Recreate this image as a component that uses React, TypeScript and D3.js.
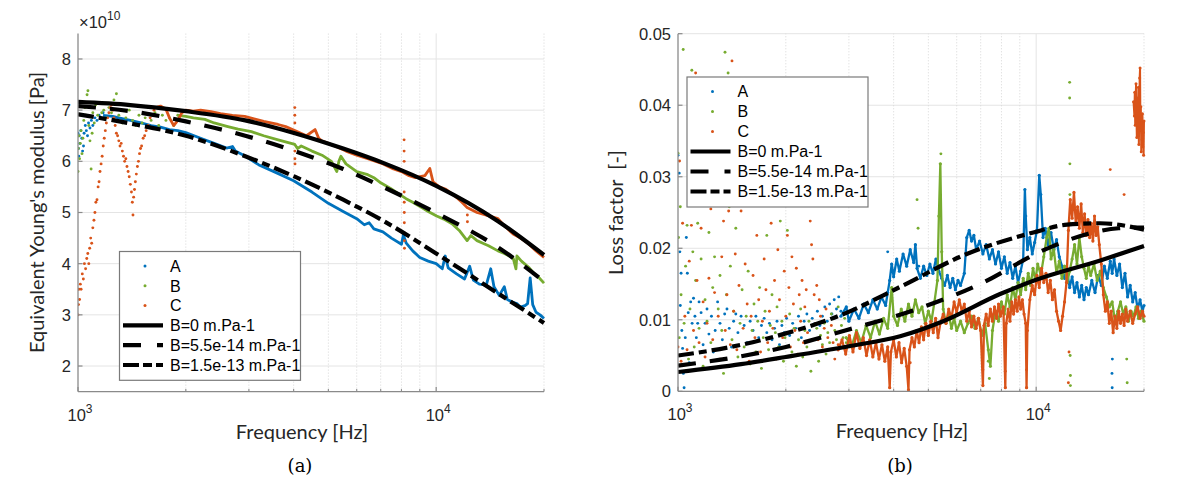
import React from 'react';
import * as d3 from 'd3';

type Pt = [number, number];

// colours used by MATLAB for the three samples
const seriesNames = ['A', 'B', 'C'];
const seriesColors = ['#0072BD', '#77AC30', '#D95319'];
const modelNames = ['B=0 m.Pa-1', 'B=5.5e-14 m.Pa-1', 'B=1.5e-13 m.Pa-1'];

const freqTicks = [1000, 10000];
const freqMinorTicks = [2000, 3000, 4000, 5000, 6000, 7000, 8000, 9000, 20000];
const modulusTicks = [2, 3, 4, 5, 6, 7, 8];
const lossTicks = [0, 0.01, 0.02, 0.03, 0.04, 0.05];

// ---------- (a) Equivalent Young's modulus, in 1e10 Pa ----------
const modulusDotsA: Pt[] = [[1000, 6.55], [1003, 6.25], [1005, 6.1], [1008, 6.5], [1012, 6.35], [1018, 6.6], [1025, 6.45], [1030, 6.2], [1036, 6.3], [1040, 6.55], [1048, 6.7], [1055, 6.6], [1063, 6.5], [1070, 6.75], [1080, 6.65], [1090, 6.8], [1100, 6.7], [1115, 6.85], [1130, 6.8], [1145, 6.9], [1160, 6.85], [1175, 6.95]];
const modulusLineA: Pt[] = [[1175, 6.9], [1250, 6.88], [1300, 6.85], [1400, 6.8], [1500, 6.75], [1600, 6.7], [1700, 6.67], [1800, 6.62], [1900, 6.6], [2000, 6.56], [2200, 6.45], [2400, 6.35], [2600, 6.26], [2700, 6.29], [2750, 6.2], [2900, 6.12], [3200, 5.93], [3600, 5.77], [4000, 5.62], [4500, 5.4], [5000, 5.18], [5500, 5.02], [6000, 4.88], [6300, 4.76], [6500, 4.8], [6700, 4.68], [7100, 4.62], [7500, 4.5], [8000, 4.38], [8100, 4.56], [8250, 4.4], [8600, 4.25], [9000, 4.12], [9500, 4.05], [10000, 4.0], [10400, 3.9], [10600, 4.15], [10800, 3.92], [11400, 3.8], [12000, 3.7], [12400, 3.95], [12700, 3.68], [13200, 3.6], [13800, 3.58], [14200, 3.9], [14500, 3.55], [15000, 3.38], [15500, 3.55], [15800, 3.3], [16300, 3.25], [16800, 3.22], [17200, 3.15], [17700, 3.18], [18000, 3.22], [18300, 3.72], [18600, 3.2], [19000, 3.05], [19500, 3.0], [20000, 2.93]];

const modulusDotsB: Pt[] = [[1000, 5.8], [1002, 6.25], [1006, 6.5], [1010, 6.05], [1015, 6.35], [1020, 6.6], [1026, 6.15], [1032, 6.45], [1038, 6.8], [1045, 7.05], [1052, 6.9], [1060, 7.3], [1066, 7.38], [1072, 6.7], [1080, 6.4], [1088, 5.85], [1095, 6.55], [1100, 6.95], [1110, 6.75], [1120, 7.1], [1135, 6.9], [1150, 7.15], [1165, 6.95], [1180, 7.0], [1200, 6.85], [1220, 7.05], [1240, 6.95], [1260, 7.2], [1280, 7.32], [1300, 6.9], [1330, 6.75], [1360, 6.85], [1390, 7.0], [1420, 6.8], [1450, 6.7], [1480, 6.9], [1510, 6.75], [1540, 6.85], [1570, 7.05], [1600, 6.8], [1640, 6.95], [1680, 6.7], [1720, 6.9], [1760, 6.8], [1800, 6.85], [1850, 6.7], [1900, 6.9]];
const modulusLineB: Pt[] = [[1900, 6.9], [2000, 6.88], [2100, 6.85], [2260, 6.82], [2400, 6.75], [2620, 6.68], [2800, 6.63], [3050, 6.58], [3300, 6.5], [3620, 6.42], [4030, 6.33], [4100, 6.25], [4200, 6.3], [4500, 6.2], [4800, 6.12], [5100, 6.0], [5280, 5.8], [5350, 6.0], [5420, 6.1], [5600, 5.95], [6000, 5.8], [6440, 5.74], [6700, 5.68], [7000, 5.58], [7460, 5.47], [7800, 5.38], [8240, 5.27], [8600, 5.2], [9090, 5.1], [9500, 5.02], [10030, 4.93], [10500, 4.87], [11070, 4.78], [11600, 4.65], [12200, 4.45], [12500, 4.55], [13000, 4.45], [13500, 4.4], [14000, 4.35], [14880, 4.25], [15500, 4.2], [16000, 4.15], [16420, 4.1], [16700, 3.9], [16800, 4.15], [17300, 4.05], [18120, 3.93], [18800, 3.8], [19400, 3.72], [20000, 3.62]];

const modulusDotsC: Pt[] = [[1000, 3.0], [1003, 3.2], [1006, 3.5], [1010, 3.3], [1015, 3.6], [1020, 3.5], [1028, 3.8], [1035, 3.7], [1042, 4.0], [1050, 3.9], [1058, 4.1], [1065, 4.2], [1072, 4.0], [1078, 4.3], [1085, 4.5], [1092, 4.4], [1100, 4.7], [1108, 4.85], [1115, 5.0], [1122, 5.2], [1130, 5.25], [1138, 5.5], [1145, 5.6], [1152, 5.8], [1160, 5.95], [1168, 6.1], [1176, 6.3], [1184, 6.45], [1192, 6.6], [1200, 6.75], [1210, 6.85], [1220, 6.95], [1230, 7.05], [1240, 7.1], [1250, 7.0], [1260, 6.85], [1270, 6.7], [1280, 6.55], [1290, 6.5], [1300, 6.4], [1310, 6.3], [1320, 6.35], [1330, 6.2], [1340, 6.1], [1350, 6.0], [1360, 6.05], [1370, 5.9], [1380, 5.8], [1390, 5.7], [1400, 5.55], [1410, 5.4], [1418, 5.2], [1424, 4.95], [1430, 5.3], [1438, 5.45], [1446, 5.6], [1455, 5.75], [1465, 5.9], [1475, 6.0], [1485, 6.15], [1495, 6.25], [1505, 6.3], [1520, 6.45], [1535, 6.5], [1550, 6.6], [1570, 6.7], [1590, 6.85], [1610, 6.9], [1630, 7.0], [1650, 7.05], [4030, 7.05], [4030, 6.9], [4031, 6.75], [4032, 6.2], [4033, 6.05], [4035, 5.95], [8136, 6.42], [8137, 6.2], [8139, 6.0], [8141, 5.4], [8143, 5.2], [8145, 5.0], [8148, 4.8], [8150, 4.6], [8153, 4.45], [8155, 4.3], [12220, 4.95], [12225, 4.82]];
const modulusLineC: Pt[] = [[1650, 7.05], [1700, 7.08], [1760, 7.02], [1800, 6.85], [1850, 6.7], [1900, 6.8], [1950, 6.95], [2000, 7.0], [2100, 6.98], [2200, 7.0], [2350, 6.97], [2500, 6.93], [2700, 6.9], [2920, 6.88], [3100, 6.83], [3300, 6.78], [3620, 6.72], [3800, 6.68], [4030, 6.6], [4343, 6.5], [4590, 6.62], [4700, 6.45], [4790, 6.4], [5000, 6.35], [5290, 6.28], [5600, 6.2], [6000, 6.12], [6440, 6.05], [7110, 5.95], [7600, 5.85], [8000, 5.8], [8400, 5.72], [8750, 5.68], [9300, 5.72], [9600, 5.86], [9800, 5.6], [10200, 5.5], [10600, 5.46], [11300, 5.32], [11800, 5.2], [12200, 5.1], [13000, 5.0], [13800, 4.95], [14880, 4.88], [15600, 4.72], [16400, 4.58], [17200, 4.5], [18100, 4.39], [19000, 4.25], [20000, 4.12]];

const modulusModel0: Pt[] = [[1000, 7.16], [1400, 7.1], [2000, 6.98], [2930, 6.8], [4030, 6.55], [5500, 6.25], [7110, 5.97], [10000, 5.52], [14880, 4.83], [20000, 4.17]];
const modulusModel1: Pt[] = [[1000, 7.08], [1400, 6.98], [2000, 6.78], [2930, 6.5], [4030, 6.2], [5500, 5.85], [7110, 5.5], [10000, 4.99], [14880, 4.32], [20000, 3.65]];
const modulusModel2: Pt[] = [[1000, 6.92], [1400, 6.74], [2000, 6.5], [2930, 6.1], [4030, 5.7], [5500, 5.25], [7110, 4.84], [10000, 4.2], [14880, 3.42], [20000, 2.84]];

// ---------- (b) Loss factor ----------
const lossDotsA: Pt[] = [[1000, 0.033], [1008, 0.0305], [1012, 0.0195], [1015, 0.012], [1020, 0.0165], [1025, 0.0085], [1030, 0.006], [1035, 0.0025], [1040, 0.0005], [1048, 0.0075], [1055, 0.0215], [1062, 0.0165], [1068, 0.011], [1075, 0.004], [1085, 0.0125], [1095, 0.0095], [1105, 0.013], [1115, 0.0105], [1125, 0.0075], [1135, 0.0095], [1145, 0.0125], [1160, 0.011], [1175, 0.0065], [1190, 0.0095], [1205, 0.0115], [1220, 0.008], [1240, 0.0105], [1255, 0.0055], [1270, 0.0085], [1290, 0.0125], [1310, 0.0095], [1330, 0.0072], [1350, 0.0108], [1370, 0.0115], [1390, 0.0088], [1410, 0.0062], [1430, 0.0098], [1450, 0.0108], [1470, 0.0082], [1500, 0.0105], [1530, 0.0092], [1560, 0.0068], [1590, 0.0098], [1620, 0.0085], [1650, 0.0105], [1680, 0.0075], [1710, 0.0092], [1740, 0.0102], [1770, 0.0082], [1800, 0.0095], [1830, 0.0072], [1860, 0.0088], [1890, 0.0098], [1920, 0.0065], [1950, 0.0092], [1980, 0.0082], [2010, 0.0102], [2050, 0.0078], [2090, 0.0095], [2130, 0.0088], [2170, 0.0105], [2210, 0.0075], [2250, 0.0098], [2290, 0.0108], [2330, 0.0085], [2370, 0.0102], [2410, 0.0095], [2450, 0.0112], [2490, 0.0092], [2530, 0.0105], [2570, 0.0118], [2610, 0.0098], [2650, 0.0122], [2690, 0.0108], [2730, 0.0128], [2770, 0.0115], [2810, 0.0132], [2850, 0.0112], [16300, 0.0005], [16280, 0.0025], [16320, 0.0045], [3850, 0.0195], [4700, 0.0175]];
const lossLineA: Pt[] = [[2850, 0.0105], [2950, 0.0118], [3000, 0.0098], [3100, 0.0115], [3200, 0.0102], [3300, 0.0122], [3400, 0.011], [3500, 0.0128], [3600, 0.0115], [3700, 0.0132], [3800, 0.012], [3850, 0.0138], [3900, 0.0155], [3950, 0.0178], [4000, 0.016], [4080, 0.0185], [4150, 0.0168], [4250, 0.0192], [4350, 0.0175], [4450, 0.0198], [4550, 0.018], [4600, 0.0205], [4650, 0.0172], [4750, 0.0158], [4850, 0.0175], [4950, 0.0162], [5050, 0.0178], [5150, 0.0165], [5250, 0.0185], [5350, 0.0168], [5450, 0.0158], [5550, 0.0148], [5650, 0.0162], [5750, 0.0145], [5850, 0.0158], [5950, 0.0142], [6050, 0.0155], [6150, 0.0148], [6300, 0.0165], [6400, 0.0215], [6500, 0.0225], [6600, 0.021], [6700, 0.0218], [6800, 0.0198], [6950, 0.021], [7100, 0.0192], [7250, 0.0205], [7400, 0.0185], [7550, 0.0198], [7700, 0.0178], [7850, 0.0195], [8000, 0.0172], [8150, 0.0188], [8300, 0.0165], [8450, 0.018], [8600, 0.0158], [8750, 0.0175], [8900, 0.0152], [9050, 0.0168], [9200, 0.0185], [9300, 0.0282], [9350, 0.0245], [9450, 0.0198], [9600, 0.0215], [9750, 0.0192], [9900, 0.0208], [10050, 0.0225], [10200, 0.0302], [10300, 0.0275], [10450, 0.0215], [10600, 0.0228], [10800, 0.0205], [11000, 0.0222], [11200, 0.0198], [11400, 0.0212], [11600, 0.0188], [11800, 0.0175], [12000, 0.0158], [12200, 0.0168], [12400, 0.0145], [12600, 0.016], [12800, 0.0138], [13000, 0.0152], [13200, 0.0132], [13400, 0.0148], [13600, 0.0128], [13800, 0.0145], [14000, 0.0135], [14300, 0.0155], [14600, 0.0138], [14900, 0.0162], [15200, 0.0148], [15500, 0.0175], [15800, 0.0158], [16100, 0.0182], [16300, 0.0165], [16500, 0.0185], [16800, 0.0162], [17100, 0.0178], [17400, 0.0145], [17700, 0.0165], [18000, 0.0132], [18300, 0.0148], [18600, 0.0125], [18900, 0.0138], [19200, 0.0115], [19500, 0.0128], [19800, 0.0112], [20000, 0.012]];

const lossDotsB: Pt[] = [[1000, 0.0333], [1003, 0.0215], [1008, 0.0075], [1015, 0.0258], [1020, 0.0135], [1034, 0.0478], [1040, 0.0095], [1050, 0.0175], [1060, 0.0232], [1070, 0.0045], [1080, 0.0115], [1093, 0.0449], [1100, 0.0195], [1110, 0.0062], [1120, 0.0155], [1135, 0.0235], [1145, 0.0088], [1160, 0.0185], [1175, 0.0035], [1190, 0.0128], [1205, 0.0098], [1220, 0.0222], [1235, 0.0068], [1250, 0.0145], [1265, 0.0188], [1280, 0.0058], [1295, 0.0115], [1310, 0.0162], [1325, 0.0085], [1340, 0.0025], [1353, 0.0474], [1365, 0.0135], [1380, 0.0445], [1390, 0.0258], [1400, 0.0175], [1415, 0.0072], [1430, 0.0112], [1450, 0.0228], [1470, 0.0048], [1490, 0.0095], [1510, 0.0142], [1530, 0.0062], [1550, 0.0105], [1570, 0.0168], [1590, 0.0038], [1610, 0.0085], [1630, 0.0122], [1650, 0.0055], [1670, 0.0098], [1690, 0.0145], [1710, 0.0032], [1730, 0.0075], [1750, 0.0112], [1770, 0.0218], [1790, 0.0058], [1810, 0.0092], [1830, 0.0135], [1850, 0.0045], [1870, 0.0082], [1890, 0.0118], [1910, 0.0062], [1930, 0.0238], [1950, 0.0098], [1970, 0.0042], [1990, 0.0075], [2020, 0.0225], [2050, 0.0108], [2080, 0.0055], [2110, 0.0088], [2140, 0.0035], [2170, 0.0072], [2200, 0.0115], [2230, 0.0048], [2260, 0.0085], [2290, 0.0062], [2320, 0.0098], [2350, 0.0028], [2380, 0.0072], [2410, 0.0055], [2440, 0.0088], [2470, 0.0042], [2500, 0.0078], [2530, 0.0065], [2560, 0.0095], [2590, 0.0052], [2620, 0.0082], [2650, 0.0068], [2680, 0.0108], [2710, 0.0058], [2740, 0.0085], [2770, 0.0072], [2800, 0.0118], [2830, 0.0062], [2860, 0.0092], [2890, 0.0075], [2920, 0.0102], [2950, 0.0068], [4650, 0.0268], [4680, 0.0228], [12400, 0.0432], [12400, 0.041], [12420, 0.0318], [12420, 0.0275], [12440, 0.0235], [12440, 0.005], [12460, 0.0022], [12460, 0.0008], [17900, 0.0045], [17950, 0.0012], [7400, 0.0018], [7350, 0.0042], [5420, 0.0332]];
const lossLineB: Pt[] = [[2950, 0.0075], [3050, 0.0062], [3150, 0.0085], [3250, 0.0068], [3350, 0.0092], [3450, 0.0075], [3550, 0.0098], [3650, 0.008], [3750, 0.0102], [3850, 0.0088], [3950, 0.0145], [4000, 0.0105], [4100, 0.0092], [4200, 0.0115], [4300, 0.0098], [4400, 0.0122], [4500, 0.0105], [4600, 0.0128], [4700, 0.011], [4800, 0.0118], [4900, 0.0095], [5000, 0.0112], [5100, 0.0098], [5200, 0.0125], [5300, 0.0155], [5350, 0.0245], [5400, 0.0318], [5450, 0.0195], [5500, 0.0115], [5600, 0.0095], [5700, 0.0108], [5800, 0.0088], [5900, 0.0102], [6000, 0.0085], [6150, 0.0098], [6300, 0.0082], [6450, 0.0095], [6600, 0.0105], [6750, 0.0088], [6900, 0.0102], [7050, 0.0078], [7200, 0.0095], [7350, 0.0058], [7450, 0.0035], [7550, 0.0085], [7700, 0.0112], [7850, 0.0098], [8000, 0.0125], [8150, 0.0108], [8300, 0.0135], [8450, 0.0118], [8600, 0.0145], [8750, 0.0128], [8900, 0.0152], [9050, 0.0135], [9200, 0.0158], [9350, 0.0142], [9500, 0.0165], [9650, 0.0148], [9800, 0.0172], [9950, 0.0155], [10100, 0.0178], [10300, 0.0162], [10500, 0.0188], [10700, 0.0215], [10850, 0.0228], [11000, 0.0185], [11200, 0.0198], [11400, 0.0165], [11600, 0.0182], [11800, 0.0158], [12000, 0.0175], [12200, 0.0152], [12400, 0.0168], [12600, 0.0185], [12800, 0.0205], [13000, 0.0178], [13200, 0.0215], [13400, 0.0188], [13600, 0.0172], [13800, 0.0158], [14000, 0.0175], [14200, 0.0162], [14500, 0.0178], [14800, 0.0155], [15100, 0.0168], [15400, 0.0145], [15700, 0.0132], [16000, 0.0118], [16300, 0.0125], [16600, 0.0098], [16900, 0.0112], [17200, 0.0125], [17500, 0.0108], [17800, 0.0118], [18100, 0.0098], [18400, 0.0112], [18700, 0.0105], [19000, 0.0118], [19300, 0.0102], [19600, 0.0112], [20000, 0.0098]];

const lossDotsC: Pt[] = [[1000, 0.0062], [1010, 0.0322], [1020, 0.0042], [1030, 0.0235], [1045, 0.0105], [1060, 0.0058], [1075, 0.0182], [1090, 0.0232], [1105, 0.0085], [1120, 0.0445], [1130, 0.0155], [1145, 0.0068], [1160, 0.0228], [1175, 0.0125], [1190, 0.0048], [1205, 0.0095], [1220, 0.0158], [1235, 0.0255], [1250, 0.0072], [1265, 0.0138], [1280, 0.0262], [1295, 0.0105], [1310, 0.0045], [1325, 0.0188], [1340, 0.0238], [1355, 0.0085], [1370, 0.0135], [1385, 0.0252], [1400, 0.0065], [1415, 0.0462], [1430, 0.0112], [1445, 0.0192], [1460, 0.0058], [1480, 0.0148], [1500, 0.0252], [1520, 0.0088], [1540, 0.0178], [1560, 0.0122], [1580, 0.0042], [1600, 0.0105], [1620, 0.0162], [1640, 0.0075], [1660, 0.0218], [1680, 0.0128], [1700, 0.0055], [1720, 0.0098], [1740, 0.0185], [1760, 0.0142], [1780, 0.0068], [1800, 0.0112], [1820, 0.0235], [1840, 0.0088], [1860, 0.0155], [1880, 0.0045], [1900, 0.0198], [1920, 0.0128], [1940, 0.0265], [1960, 0.0075], [1980, 0.0168], [2000, 0.0105], [2020, 0.0218], [2040, 0.0145], [2060, 0.0062], [2080, 0.0188], [2100, 0.0122], [2120, 0.0085], [2140, 0.0172], [2160, 0.0052], [2180, 0.0135], [2200, 0.0098], [2220, 0.0155], [2240, 0.0068], [2260, 0.0118], [2280, 0.0142], [2300, 0.0082], [2320, 0.0262], [2340, 0.0238], [2360, 0.0205], [2380, 0.0185], [2400, 0.0135], [2420, 0.0095], [2440, 0.0148], [2460, 0.0072], [2480, 0.0128], [2500, 0.0105], [2530, 0.0062], [2560, 0.0088], [2590, 0.0115], [2620, 0.0075], [2650, 0.0058], [2680, 0.0092], [2710, 0.0068], [2740, 0.0045], [2770, 0.0082], [2800, 0.0065], [12300, 0.0012], [12350, 0.0055], [16100, 0.031], [17600, 0.0275], [9400, 0.003], [8200, 0.0028], [7100, 0.003], [3900, 0.0025], [4400, 0.002], [4450, 0.004]];
const lossLineC: Pt[] = [[2800, 0.0058], [2870, 0.0072], [2940, 0.0052], [3010, 0.0078], [3080, 0.0055], [3150, 0.0082], [3220, 0.006], [3290, 0.0075], [3360, 0.005], [3430, 0.0072], [3500, 0.0048], [3570, 0.0068], [3640, 0.0045], [3710, 0.0065], [3780, 0.0042], [3850, 0.0062], [3900, 0.0005], [3930, 0.0055], [4000, 0.0072], [4070, 0.0048], [4140, 0.0068], [4210, 0.004], [4280, 0.006], [4350, 0.0035], [4400, 0.0002], [4430, 0.0058], [4500, 0.0075], [4570, 0.0062], [4640, 0.0085], [4710, 0.0068], [4780, 0.009], [4850, 0.0072], [4920, 0.0095], [5000, 0.0078], [5080, 0.0098], [5160, 0.0082], [5240, 0.0102], [5320, 0.0075], [5400, 0.0095], [5500, 0.0108], [5600, 0.0095], [5700, 0.0115], [5800, 0.0102], [5900, 0.0125], [6000, 0.011], [6100, 0.0128], [6200, 0.0112], [6300, 0.0122], [6400, 0.0098], [6500, 0.0112], [6600, 0.009], [6700, 0.0105], [6800, 0.0088], [6900, 0.0102], [7000, 0.0085], [7100, 0.0008], [7150, 0.0092], [7250, 0.0108], [7350, 0.0092], [7450, 0.0115], [7550, 0.0098], [7650, 0.0118], [7750, 0.0102], [7850, 0.0122], [7950, 0.0105], [8100, 0.0118], [8200, 0.0005], [8250, 0.0095], [8350, 0.0115], [8450, 0.0098], [8550, 0.0125], [8650, 0.0108], [8750, 0.0128], [8850, 0.0112], [8950, 0.0132], [9050, 0.0115], [9150, 0.0128], [9250, 0.0108], [9350, 0.0095], [9400, 0.0005], [9450, 0.0085], [9600, 0.0128], [9750, 0.0148], [9900, 0.0135], [10050, 0.0162], [10200, 0.0145], [10350, 0.0172], [10500, 0.0152], [10650, 0.0165], [10800, 0.0138], [10950, 0.0155], [11100, 0.0128], [11250, 0.0142], [11400, 0.0112], [11550, 0.0098], [11700, 0.0085], [11850, 0.0105], [12000, 0.0125], [12150, 0.0152], [12300, 0.0225], [12450, 0.0268], [12600, 0.0242], [12750, 0.0278], [12900, 0.0235], [13050, 0.0258], [13200, 0.0228], [13350, 0.0262], [13500, 0.0222], [13650, 0.0248], [13800, 0.0218], [13950, 0.024], [14100, 0.0215], [14250, 0.0235], [14400, 0.021], [14550, 0.0245], [14700, 0.0218], [14850, 0.023], [15000, 0.0205], [15200, 0.0178], [15400, 0.0135], [15600, 0.0112], [15800, 0.0125], [16000, 0.0095], [16200, 0.0112], [16400, 0.0082], [16600, 0.0105], [16800, 0.0088], [17000, 0.0112], [17200, 0.0095], [17400, 0.0108], [17600, 0.0092], [17800, 0.0115], [18000, 0.0098], [18300, 0.0112], [18600, 0.0095], [18900, 0.0108], [19200, 0.0118], [19500, 0.0102], [19800, 0.0112], [20000, 0.0105]];
const lossTopC: Pt[] = [[18700, 0.0405], [18800, 0.0385], [18850, 0.0418], [18900, 0.0372], [18950, 0.0398], [19000, 0.043], [19050, 0.0385], [19100, 0.0355], [19150, 0.041], [19200, 0.0392], [19250, 0.0368], [19300, 0.0425], [19350, 0.0345], [19400, 0.0382], [19450, 0.0438], [19500, 0.0452], [19550, 0.0365], [19600, 0.0398], [19650, 0.0335], [19700, 0.0375], [19750, 0.0352], [19800, 0.0388], [19850, 0.0342], [19900, 0.0362], [19950, 0.033], [20000, 0.0378]];

const lossModel0: Pt[] = [[1000, 0.0027], [1500, 0.0038], [2000, 0.0048], [3000, 0.0063], [4170, 0.0077], [5500, 0.0098], [7930, 0.0136], [10000, 0.0156], [15100, 0.0183], [20000, 0.0203]];
const lossModel1: Pt[] = [[1000, 0.0036], [1500, 0.0049], [2000, 0.0062], [2930, 0.0085], [4530, 0.0113], [6970, 0.015], [10450, 0.0197], [13900, 0.022], [17000, 0.0228], [20000, 0.0229]];
const lossModel2: Pt[] = [[1000, 0.005], [1500, 0.0065], [2000, 0.0081], [2930, 0.0109], [4170, 0.0146], [6400, 0.0192], [9820, 0.0222], [12200, 0.0233], [15100, 0.0235], [20000, 0.0226]];

const TICK_FONT = '"Liberation Sans", Arial, sans-serif';
const LABEL_FONT = 'Lato, "Open Sans", sans-serif';
const GRID = '#e4e4e4';
const AXIS = '#8a8a8a';
const modelDash = [null, '18,14', '16,5,8,5'];
const legendDash = [null, '18,16', '16,4,9,4'];

interface PanelProps {
  id: string;
  offsetX: number;
  yDomain: [number, number];
  yRange: [number, number];
  yTicks: number[];
  yFormat: (v: number) => string;
  yLabel: string;
  yLabelX: number;
  dots: Pt[][];
  lines: Pt[][];
  lineWidth: number;
  lineDots: boolean;
  extraLines: { color: string; pts: Pt[] }[];
  models: Pt[][];
  legend: { x: number; y: number; step: number };
  caption: string;
  exponent?: boolean;
}

function Panel(p: PanelProps) {
  const x = d3.scaleLog().domain([1000, 20000]).range([p.offsetX + 78, p.offsetX + 544]);
  const y = d3.scaleLinear().domain(p.yDomain).range(p.yRange);
  const [yBottom, yTop] = p.yRange;
  const line = d3.line<Pt>().x(d => x(d[0])).y(d => y(d[1]));
  const smooth = d3.line<Pt>().x(d => x(d[0])).y(d => y(d[1])).curve(d3.curveMonotoneX);
  const left = x(1000);
  const right = x(20000);
  const lg = p.legend;
  const lgW = 181;
  const lgH = lg.step * 6 + 10;

  return (
    <g>
      <defs>
        <clipPath id={p.id}>
          <rect x={left} y={yTop - 2} width={right - left + 2} height={yBottom - yTop + 2} />
        </clipPath>
      </defs>
      {/* grid */}
      {p.yTicks.map(t => (
        <line key={'g' + t} x1={left} x2={right} y1={y(t)} y2={y(t)} stroke={GRID} strokeWidth={1} />
      ))}
      {freqMinorTicks.map(t => (
        <line key={'m' + t} x1={x(t)} x2={x(t)} y1={yBottom} y2={yTop} stroke="#d6d6d6" strokeWidth={1} strokeDasharray="1,2" />
      ))}
      <line x1={x(10000)} x2={x(10000)} y1={yBottom} y2={yTop} stroke={GRID} strokeWidth={1} />

      {/* measured data */}
      <g clipPath={`url(#${p.id})`}>
        {seriesNames.map((s, i) => (
          <g key={s}>
            <path d={line(p.lines[i]) || ''} fill="none" stroke={seriesColors[i]} strokeWidth={p.lineWidth} strokeLinejoin="round" />
            {p.lineDots && p.lines[i].map((d, j) => (
              <circle key={j} cx={x(d[0])} cy={y(d[1])} r={1.6} fill={seriesColors[i]} />
            ))}
            {p.dots[i].map((d, j) => (
              <circle key={'d' + j} cx={x(d[0])} cy={y(d[1])} r={1.45} fill={seriesColors[i]} />
            ))}
          </g>
        ))}
        {p.extraLines.map((e, k) => (
          <g key={'e' + k}>
            <path d={line(e.pts) || ''} fill="none" stroke={e.color} strokeWidth={2} />
            {e.pts.map((d, j) => (
              <circle key={j} cx={x(d[0])} cy={y(d[1])} r={1.5} fill={e.color} />
            ))}
          </g>
        ))}
        {p.models.map((m, i) => (
          <path key={'model' + i} d={smooth(m) || ''} fill="none" stroke="#000" strokeWidth={4.2}
            strokeDasharray={modelDash[i] || undefined} />
        ))}
      </g>

      {/* axes */}
      <line x1={left} x2={left} y1={yTop} y2={yBottom} stroke={AXIS} strokeWidth={1.3} />
      <line x1={left} x2={right} y1={yBottom} y2={yBottom} stroke={AXIS} strokeWidth={1.3} />
      {p.yTicks.map(t => (
        <g key={'yt' + t}>
          <line x1={left} x2={left + 4.5} y1={y(t)} y2={y(t)} stroke={AXIS} strokeWidth={1.2} />
          <text x={left - 7} y={y(t)} dy="0.36em" textAnchor="end" fontFamily={TICK_FONT} fontSize={16.5} fill="#262626">
            {p.yFormat(t)}
          </text>
        </g>
      ))}
      {freqMinorTicks.map(t => (
        <line key={'xm' + t} x1={x(t)} x2={x(t)} y1={yBottom} y2={yBottom - 2.5} stroke={AXIS} strokeWidth={1.1} />
      ))}
      {freqTicks.map(t => (
        <g key={'xt' + t}>
          <line x1={x(t)} x2={x(t)} y1={yBottom} y2={yBottom - 4.5} stroke={AXIS} strokeWidth={1.2} />
          <text x={x(t) + 2} y={yBottom + 29} textAnchor="middle" fontFamily={TICK_FONT} fontSize={16.5} fill="#262626">
            10<tspan dy={-8} fontSize={12}>{Math.round(Math.log10(t))}</tspan>
          </text>
        </g>
      ))}
      {p.exponent && (
        <text x={left + 1} y={yTop - 5} fontFamily={TICK_FONT} fontSize={16.5} fill="#262626">
          ×10<tspan dy={-8} fontSize={12}>10</tspan>
        </text>
      )}

      {/* labels */}
      <text x={p.offsetX + 302} y={yBottom + 47} textAnchor="middle" fontFamily={LABEL_FONT} fontSize={20} fill="#262626">
        Frequency [Hz]
      </text>
      <text transform={`translate(${p.yLabelX},${(yTop + yBottom) / 2}) rotate(-90)`} textAnchor="middle" dy="0.35em"
        fontFamily={LABEL_FONT} fontSize={20} fill="#262626" style={{ whiteSpace: 'pre' }}>
        {p.yLabel}
      </text>
      <text x={p.offsetX + 300} y={472} textAnchor="middle" fontFamily='"DejaVu Serif", "Liberation Serif", serif' fontSize={18} fill="#000">
        {p.caption}
      </text>

      {/* legend */}
      <rect x={lg.x} y={lg.y} width={lgW} height={lgH} fill="#fff" stroke="#7a7a7a" strokeWidth={1.2} />
      {seriesNames.map((s, i) => (
        <g key={'lg' + s}>
          <circle cx={lg.x + 25.5} cy={lg.y + 14.5 + i * lg.step} r={1.5} fill={seriesColors[i]} />
          <text x={lg.x + 50.5} y={lg.y + 14.5 + i * lg.step} dy="0.36em" fontFamily={TICK_FONT} fontSize={16} fill="#000">{s}</text>
        </g>
      ))}
      {modelNames.map((s, i) => {
        const cy = lg.y + 14.5 + (i + 3) * lg.step;
        return (
          <g key={'lm' + i}>
            <line x1={lg.x + 3.5} x2={lg.x + 43.5} y1={cy} y2={cy} stroke="#000" strokeWidth={4.2}
              strokeDasharray={legendDash[i] || undefined} />
            <text x={lg.x + 50.5} y={cy} dy="0.36em" fontFamily={TICK_FONT} fontSize={16} fill="#000">{s}</text>
          </g>
        );
      })}
    </g>
  );
}

export default function App() {
  return (
    <svg width={1200} height={480} style={{ position: 'absolute', left: 0, top: 0, background: '#fff' }}>
      <rect width={1200} height={480} fill="#fff" />
      <Panel
        id="clipA"
        offsetX={0}
        yDomain={[1.5, 8.5]}
        yRange={[391.6, 33.4]}
        yTicks={modulusTicks}
        yFormat={v => String(v)}
        yLabel="Equivalent Young's modulus [Pa]"
        yLabelX={37}
        dots={[modulusDotsA, modulusDotsB, modulusDotsC]}
        lines={[modulusLineA, modulusLineB, modulusLineC]}
        lineWidth={2.8}
        lineDots={false}
        extraLines={[]}
        models={[modulusModel0, modulusModel1, modulusModel2]}
        legend={{ x: 119.5, y: 251.5, step: 19.8 }}
        caption="(a)"
        exponent
      />
      <Panel
        id="clipB"
        offsetX={600}
        yDomain={[0, 0.05]}
        yRange={[391.3, 33.7]}
        yTicks={lossTicks}
        yFormat={v => (v === 0 ? '0' : String(v))}
        yLabel="Loss factor  [-]"
        yLabelX={616}
        dots={[lossDotsA, lossDotsB, lossDotsC]}
        lines={[lossLineA, lossLineB, lossLineC]}
        lineWidth={2.3}
        lineDots
        extraLines={[{ color: seriesColors[2], pts: lossTopC }]}
        models={[lossModel0, lossModel1, lossModel2]}
        legend={{ x: 687, y: 77, step: 20 }}
        caption="(b)"
      />
    </svg>
  );
}
